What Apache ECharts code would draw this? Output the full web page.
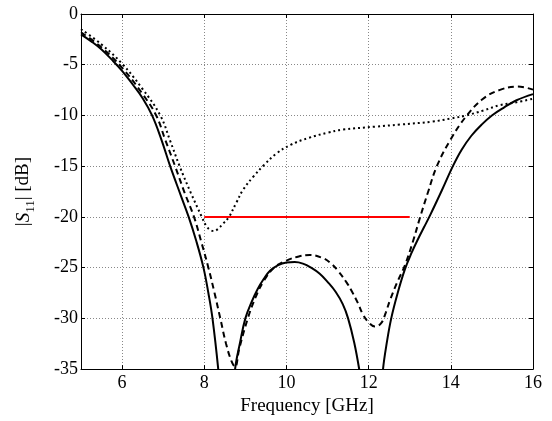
<!DOCTYPE html>
<html>
<head>
<meta charset="utf-8">
<script src="https://cdn.jsdelivr.net/npm/echarts@6/dist/echarts.min.js"></script>
<style>
	html, body { margin: 0; padding: 0; background: #fff; }
	#s11 { width: 552px; height: 421px; }
</style>
</head>
<body>
<div id="s11"></div>
<script>
// 频率刻度
var xTicks = [6, 8, 10, 12, 14, 16];

// 实线
var freqSolid = [5, 5.25, 5.5, 5.75, 6, 6.25, 6.5, 6.73, 6.95, 7.17, 7.43, 7.62, 7.8, 7.98, 8.1, 8.2, 8.34, 8.45,
	8.65, 8.75, 8.87, 9.0, 9.15, 9.3, 9.45, 9.6, 9.8, 10.0, 10.2, 10.4, 10.6, 10.81, 11.0, 11.2, 11.37, 11.5, 11.65, 11.77, 11.88,
	12.25, 12.35, 12.45, 12.55, 12.7, 12.88, 13.05, 13.2, 13.35, 13.5, 13.78, 14.05, 14.26, 14.5, 14.75, 15.0, 15.3, 15.6, 16];
var s11Solid = [-2.0, -2.7, -3.5, -4.5, -5.6, -6.9, -8.3, -10.0, -12.3, -15.0, -17.9, -20.0, -22.3, -25.0, -27.5, -30.0, -35.0, -40,
	-40, -35.0, -32.4, -30.0, -28.4, -27.1, -26.1, -25.3, -24.75, -24.5, -24.45, -24.6, -25.0, -25.6, -26.4, -27.4, -28.6, -30.0, -32.4, -35.0, -38,
	-40, -35.0, -32.2, -30.0, -27.6, -25.2, -23.5, -22.2, -21.0, -19.8, -17.4, -15.0, -13.4, -12.0, -10.9, -10.0, -9.2, -8.5, -7.9];

// 虚线
var freqDash = [5, 5.5, 6, 6.5, 6.83, 7.05, 7.29, 7.52, 7.75, 7.93, 8.1, 8.25, 8.39, 8.53, 8.66, 8.75, 8.85, 9.06,
	9.25, 9.45, 9.7, 10.0, 10.3, 10.57, 10.85, 11.06, 11.25, 11.47, 11.6, 11.74, 11.86, 12.0, 12.15, 12.3, 12.42, 12.52,
	12.7, 12.88, 13.08, 13.24, 13.45, 13.66, 13.99, 14.37, 14.77, 15.18, 15.62, 16];
var s11Dash = [-1.8, -3.3, -5.3, -7.9, -10.0, -12.4, -15.0, -17.6, -20.0, -22.5, -25.0, -27.5, -30.0, -32.5, -34.2, -34.8, -33.0, -30.0,
	-27.9, -26.3, -25.0, -24.3, -23.9, -23.75, -24.0, -24.5, -25.3, -26.5, -27.4, -28.5, -29.6, -30.4, -30.8, -30.5, -29.4, -28.2,
	-26.4, -24.8, -22.4, -20.2, -17.5, -15.0, -12.4, -10.1, -8.4, -7.5, -7.15, -7.45];

// 点线
var freqDot = [5, 5.5, 6, 6.5, 6.93, 7.17, 7.4, 7.67, 7.94, 8.05, 8.15, 8.23, 8.33, 8.45, 8.6, 8.78, 8.95, 9.2, 9.45, 9.74,
	10.1, 10.55, 11.0, 11.37, 12.17, 12.76, 13.56, 14.0, 14.37, 14.8, 15.18, 15.6, 16];
var s11Dot = [-1.5, -3.0, -4.9, -7.4, -10.0, -12.5, -15.0, -17.6, -20.0, -20.9, -21.3, -21.4, -21.2, -20.7, -20.0, -18.6, -17.3, -16.0, -14.9, -13.8,
	-12.9, -12.2, -11.7, -11.4, -11.1, -10.9, -10.6, -10.3, -10.0, -9.5, -9.0, -8.7, -8.35];

// -20 dB 指标线
var freqSpec = [8, 13];
var s11Spec = [-20, -20];

function pairs(xs, ys) {
	var out = [];
	for (var i = 0; i < xs.length; i++) {
		out.push([xs[i], ys[i]]);
	}
	return out;
}

var font = 'Liberation Serif';
var myChart = echarts.init(document.getElementById('s11'));

var option = {
	animation : false,
	backgroundColor : '#fff',
	textStyle : { fontFamily : font },
	grid : {
		left : 81,
		right : 19,
		top : 14,
		bottom : 51
	},
	xAxis : [{
		type : 'value',
		min : 5,
		max : 16,
		name : 'Frequency [GHz]',
		nameLocation : 'middle',
		nameGap : 27,
		nameTextStyle : { color : '#000', fontSize : 19, fontFamily : font },
		axisLine : { onZero : false, lineStyle : { color : '#000', width : 1 } },
		axisTick : { inside : true, length : 4, customValues : xTicks, lineStyle : { color : '#000' } },
		axisLabel : { customValues : xTicks, color : '#000', fontSize : 18, margin : 5, fontFamily : font },
		splitLine : { show : true, lineStyle : { color : '#888', type : [1, 2], width : 1 } }
	}, {
		type : 'value',
		position : 'top',
		min : 5,
		max : 16,
		axisLine : { onZero : false, lineStyle : { color : '#000', width : 1 } },
		axisTick : { inside : true, length : 4, customValues : xTicks, lineStyle : { color : '#000' } },
		axisLabel : { show : false },
		splitLine : { show : false }
	}],
	yAxis : [{
		type : 'value',
		min : -35,
		max : 0,
		interval : 5,
		name : '|{i|S}{sub|11}| [dB]',
		nameLocation : 'middle',
		nameRotate : 90,
		nameGap : 44,
		nameTextStyle : {
			color : '#000',
			fontSize : 19,
			fontFamily : font,
			rich : {
				i : { fontStyle : 'italic', fontSize : 19, fontFamily : font, color : '#000' },
				sub : { fontSize : 13, fontFamily : font, color : '#000', padding : [14, 0, 0, 0] }
			}
		},
		axisLine : { onZero : false, lineStyle : { color : '#000', width : 1 } },
		axisTick : { inside : true, length : 4, lineStyle : { color : '#000' } },
		axisLabel : { color : '#000', fontSize : 18, margin : 3, fontFamily : font },
		splitLine : { show : true, lineStyle : { color : '#888', type : [1, 2], width : 1 } }
	}, {
		type : 'value',
		position : 'right',
		min : -35,
		max : 0,
		interval : 5,
		axisLine : { onZero : false, lineStyle : { color : '#000', width : 1 } },
		axisTick : { inside : true, length : 4, lineStyle : { color : '#000' } },
		axisLabel : { show : false },
		splitLine : { show : false }
	}],
	series : [{
		name : 'solid',
		type : 'line',
		data : pairs(freqSolid, s11Solid),
		showSymbol : false,
		smooth : 0.4,
		clip : true,
		lineStyle : { color : '#000', width : 2, type : 'solid' },
		z : 4
	}, {
		name : 'dashed',
		type : 'line',
		data : pairs(freqDash, s11Dash),
		showSymbol : false,
		smooth : 0.4,
		clip : true,
		lineStyle : { color : '#000', width : 2, type : [6, 4] },
		z : 4
	}, {
		name : 'dotted',
		type : 'line',
		data : pairs(freqDot, s11Dot),
		showSymbol : false,
		smooth : 0.4,
		clip : true,
		lineStyle : { color : '#000', width : 2, type : [2, 3] },
		z : 4
	}, {
		name : 'spec',
		type : 'line',
		data : pairs(freqSpec, s11Spec),
		showSymbol : false,
		lineStyle : { color : '#ff0000', width : 2 },
		z : 5
	}]
};
myChart.setOption(option);
</script>
</body>
</html>
